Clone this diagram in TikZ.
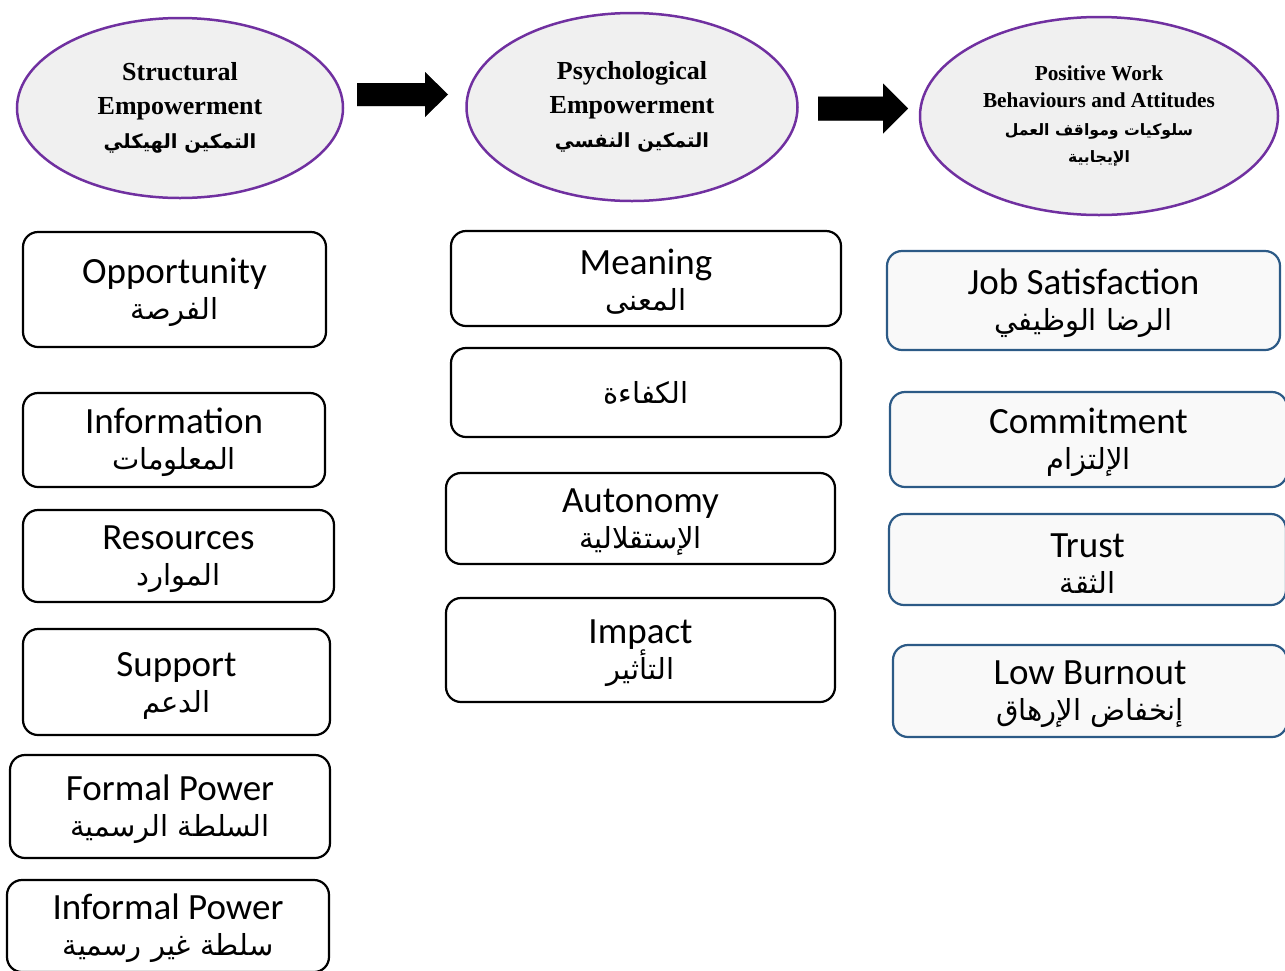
\documentclass[tikz,border=0pt]{standalone}
\usepackage{fontspec}
\setmainfont{Carlito}
\newfontfamily\headfont{Liberation Serif}
\newfontfamily\arabicfont[Script=Arabic]{DejaVu Sans}
\TeXXeTstate=1
\usetikzlibrary{shapes.geometric}

\definecolor{cpurple}{HTML}{7030A0}
\definecolor{cgray}{HTML}{F0F0F0}
\definecolor{outblue}{HTML}{2C5A86}
\definecolor{outfill}{HTML}{F9F9F9}

% English first line of a box, with a strut that sets its top
\newcommand{\entxt}[1]{\rule{0pt}{31pt}#1}
% Arabic line in a box, right to left
\newcommand{\artxt}[1]{{\arabicfont\fontsize{29}{36}\selectfont\beginR #1\endR}}
% bold Arabic fonts for the ellipses
\newcommand{\arheadA}{\arabicfont\bfseries\fontsize{19.5}{19.5}\selectfont}
\newcommand{\arheadB}{\arabicfont\bfseries\fontsize{15.7}{15.7}\selectfont}

% rounded box given by its corners: style, name, x1, y1, x2, y2, text
\newcommand{\cornerbox}[7]{%
  \node[#1, minimum width={#5pt-#3pt}, minimum height={#6pt-#4pt}]
    (#2) at ({(#3+#5)/2},{(#4+#6)/2}) {#7};}

\tikzset{
  factorbox/.style={draw=black, line width=2.2pt, rounded corners=15pt,
    fill=white, align=center, inner sep=0pt,
    font=\fontsize{37}{36}\selectfont},
  outcomebox/.style={factorbox, draw=outblue, fill=outfill},
  construct/.style={ellipse, draw=cpurple, line width=2.5pt, fill=cgray,
    align=center, inner sep=0pt},
  bigarrow/.style={fill=black},
  arrowshade/.style={fill=black, opacity=0.12}
}

\begin{document}
\begin{tikzpicture}[x=1pt,y=-1pt]
\useasboundingbox (0,0) rectangle (1285,970);
\clip (0,0) rectangle (1285,970);

% the three constructs
\node[construct, minimum width=326pt, minimum height=180pt,
      font=\headfont\bfseries\fontsize{26}{34}\selectfont]
  (se) at (180,108) {Structural\\Empowerment\\{\arheadA\beginR التمكين الهيكلي\endR}};
\node[construct, minimum width=331pt, minimum height=188pt,
      font=\headfont\bfseries\fontsize{26}{34}\selectfont]
  (pe) at (632,107) {Psychological\\Empowerment\\{\arheadA\beginR التمكين النفسي\endR}};
\node[construct, minimum width=358pt, minimum height=198pt,
      font=\headfont\bfseries\fontsize{21.3}{27.5}\selectfont]
  (pw) at (1099,116) {Positive Work\\Behaviours and Attitudes\\{\arheadB\beginR سلوكيات ومواقف العمل\endR}\\{\arheadB\beginR الإيجابية\endR}};

% block arrows between the constructs, with a soft shadow
\coordinate (a1) at (357,95);
\coordinate (a2) at (818,108.5);
\foreach \d in {2,3,4}{
  \fill[arrowshade, shift={(\d,\d)}]
    (a1) ++(0,-12) -- ++(68,0) -- ++(0,-11) -- ++(23,22.5) -- ++(-23,22.5)
    -- ++(0,-11) -- ++(-68,0) -- cycle;
  \fill[arrowshade, shift={(\d,\d)}]
    (a2) ++(0,-12) -- ++(65,0) -- ++(0,-13) -- ++(25,25) -- ++(-25,25)
    -- ++(0,-13) -- ++(-65,0) -- cycle;
}
\fill[bigarrow] (a1) ++(0,-12) -- ++(68,0) -- ++(0,-11) -- ++(23,22.5)
  -- ++(-23,22.5) -- ++(0,-11) -- ++(-68,0) -- cycle;
\fill[bigarrow] (a2) ++(0,-12) -- ++(65,0) -- ++(0,-13) -- ++(25,25)
  -- ++(-25,25) -- ++(0,-13) -- ++(-65,0) -- cycle;

% structural empowerment dimensions
\cornerbox{factorbox}{opp}{23}{232}{326}{347}{\entxt{Opportunity}\\\artxt{الفرصة}}
\cornerbox{factorbox}{inf}{23}{393}{325}{487}{\entxt{Information}\\\artxt{المعلومات}}
\cornerbox{factorbox}{res}{23}{510}{334}{602}{\entxt{Resources}\\\artxt{الموارد}}
\cornerbox{factorbox}{sup}{23}{629}{330}{735}{\entxt{Support}\\\artxt{الدعم}}
\cornerbox{factorbox}{fpw}{10}{755}{330}{858}{\entxt{Formal Power}\\\artxt{السلطة الرسمية}}
\cornerbox{factorbox}{ipw}{7}{880}{329}{972}{\entxt{Informal Power}\\\artxt{سلطة غير رسمية}}

% psychological empowerment dimensions
\cornerbox{factorbox}{mea}{451}{231}{841}{326}{\entxt{Meaning}\\\artxt{المعنى}}
\cornerbox{factorbox}{com}{451}{348}{841}{437}{\artxt{الكفاءة}}
\cornerbox{factorbox}{aut}{446}{473}{835}{564}{\entxt{Autonomy}\\\artxt{الإستقلالية}}
\cornerbox{factorbox}{imp}{446}{598}{835}{702}{\entxt{Impact}\\\artxt{التأثير}}

% outcomes
\cornerbox{outcomebox}{job}{887}{251}{1280}{350}{\entxt{Job Satisfaction}\\\artxt{الرضا الوظيفي}}
\cornerbox{outcomebox}{cmt}{890}{392}{1287}{487}{\entxt{Commitment}\\\artxt{الإلتزام}}
\cornerbox{outcomebox}{tru}{889}{514}{1286}{605}{\entxt{Trust}\\\artxt{الثقة}}
\cornerbox{outcomebox}{bur}{893}{645}{1287}{737}{\entxt{Low Burnout}\\\artxt{إنخفاض الإرهاق}}
\end{tikzpicture}
\end{document}
